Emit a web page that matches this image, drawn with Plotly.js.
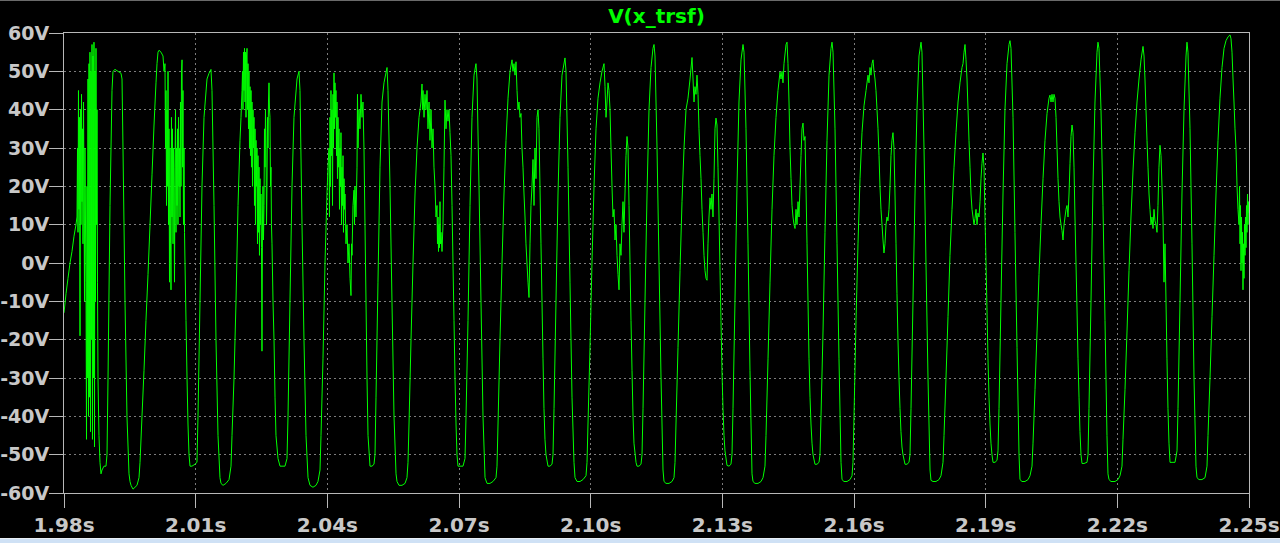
<!DOCTYPE html>
<html>
<head>
<meta charset="utf-8">
<script src="https://cdn.plot.ly/plotly-3.0.1.min.js"></script>
<style>
  html, body { margin: 0; padding: 0; background: #000; width: 1280px; height: 543px; overflow: hidden; }
  #topline { height: 1px; background: #6a6a6a; }
  #chart { width: 1280px; height: 537px; }
  #statusline { height: 1px; background: #e8eef5; }
  #statusbar { height: 4px; background: #cfe1f5; }
</style>
</head>
<body>
<div id="topline"></div>
<div id="chart"></div>
<div id="statusline"></div>
<div id="statusbar"></div>
<script>
// ---- Data ----
const titleText = 'V(x_trsf)';
const startTime = 1.98; // seconds
const tickTimes = [1.98, 2.01, 2.04, 2.07, 2.10, 2.13, 2.16, 2.19, 2.22, 2.25];
const tickTimeLabels = ['1.98s', '2.01s', '2.04s', '2.07s', '2.10s', '2.13s', '2.16s', '2.19s', '2.22s', '2.25s'];
const tickVolts = [-60, -50, -40, -30, -20, -10, 0, 10, 20, 30, 40, 50, 60];
const tickVoltLabels = ['-60V', '-50V', '-40V', '-30V', '-20V', '-10V', '0V', '10V', '20V', '30V', '40V', '50V', '60V'];

// samples: [time offset in ms after 1.98 s, voltage in V]
const samples = [
[0.00,-13],[0.46,-8],[0.91,-4],[1.37,0],[1.82,3],[2.28,7],[2.73,10],[2.96,12],
[3.08,30],[3.19,8],[3.30,45],[3.42,14],[3.53,38],[3.65,-19],[3.76,40],[3.87,10],[3.99,44],[4.10,16],[4.22,35],[4.33,5],[4.44,42],[4.56,20],[4.67,-10],[4.78,30],[4.90,10],[5.01,-5],[5.13,-46],[5.24,20],[5.35,-30],[5.47,48],[5.58,-40],[5.70,52],[5.81,-35],[5.92,55],[6.04,-44],[6.15,50],[6.26,-20],[6.38,57],[6.49,-46],[6.61,54],[6.72,-30],[6.83,57.6],[6.95,-48],[7.06,50],[7.18,-10],[7.29,56],[7.40,10],[7.52,40],[7.63,-5],
[7.75,-30],[7.97,-45],[8.20,-52],[8.43,-55],
[8.66,-54],[9.11,-53],[9.57,-53],[9.80,-50],[10.03,-30],[10.48,15],[10.94,45],[11.16,50],[11.62,50.5],[12.30,50],[12.99,49.5],[13.22,48],[13.44,30],[13.90,-10],[14.35,-40],[14.81,-55],[15.04,-57],
[15.27,-58],[15.72,-59],[16.18,-58.5],[16.63,-58],[17.09,-56],[17.32,-52],
[17.77,-40],[18.23,-28],[18.68,-15],[19.14,-3],[19.60,10],[20.05,23],[20.51,36],[20.96,47],[21.19,52],[21.42,55],
[21.65,55.5],[22.10,55],[22.56,54],[22.79,50],
[23.01,52],[23.13,30],[23.24,45],[23.36,15],[23.47,40],[23.58,20],[23.70,50],[23.81,10],[23.92,35],[24.04,-5],[24.15,30],[24.27,5],[24.38,-7],[24.49,38],[24.61,12],[24.72,35],[24.84,5],[24.95,30],[25.06,20],[25.18,-5],[25.29,25],[25.41,40],[25.52,8],[25.63,30],[25.75,15],[25.86,35],[25.97,10],[26.09,38],[26.20,20],[26.32,30],[26.43,12],[26.54,42],[26.66,20],[26.77,50],[26.89,53],[27.00,25],[27.11,45],[27.23,10],[27.34,30],[27.46,8],[27.57,0],
[27.80,-15],[28.03,-30],[28.25,-42],[28.48,-50],[28.71,-53],
[29.16,-53],[29.85,-52.5],[30.30,-52],
[30.53,-40],[30.99,-10],[31.44,20],[31.90,38],[32.58,48],[33.04,49.5],[33.49,50.5],
[33.72,45],[34.18,15],[34.63,-20],[35.09,-45],[35.54,-56],
[35.77,-57.5],[36.23,-58],[36.91,-57.5],[37.60,-56.5],[38.05,-53],
[38.28,-45],[38.74,-30],[39.19,-10],[39.65,15],[40.10,32],[40.33,38],[40.56,45],
[40.67,50],[40.78,40],[40.90,55],[41.01,45],[41.13,56],[41.24,42],[41.35,55],[41.47,38],[41.58,54],[41.70,56],[41.81,40],[41.92,52],[42.04,35],[42.15,50],[42.26,30],[42.38,46],[42.49,28],[42.61,45],[42.72,25],[42.83,42],[42.95,20],[43.06,40],[43.18,30],[43.29,38],[43.40,15],[43.52,35],[43.63,10],[43.75,32],[43.86,20],[43.97,30],[44.09,5],[44.20,28],[44.31,8],[44.43,25],[44.54,2],[44.66,22],[44.77,10],[44.88,18],[45.00,4],[45.11,-23],[45.23,12],[45.34,20],[45.45,6],[45.57,15],[45.68,35],[45.80,25],[45.91,40],[46.02,30],[46.14,10],[46.25,20],[46.36,38],[46.48,30],[46.59,42],[46.71,47],[46.82,40],[46.93,38],[47.05,20],[47.16,25],[47.27,10],[47.39,5],[47.62,-10],
[47.85,-20],[48.08,-35],[48.30,-45],[48.76,-51],[49.22,-53],
[49.67,-53],[50.35,-53],[50.81,-51],
[51.04,-40],[51.49,-10],[51.95,20],[52.40,38],[53.09,48],[53.54,50],
[53.77,45],[54.23,10],[54.68,-20],[55.14,-45],[55.60,-56],
[56.05,-58],[56.73,-58.5],[57.42,-58],[57.87,-57],[58.33,-54],
[58.56,-45],[59.01,-25],[59.47,0],[59.92,18],[60.15,25],
[60.38,30],[60.49,12],[60.61,38],[60.72,20],[60.83,45],[60.95,28],[61.06,40],[61.18,15],[61.29,44],[61.40,30],[61.52,49.6],[61.63,35],[61.74,47],[61.86,38],[61.97,45],[62.09,28],[62.20,42],[62.31,22],[62.43,38],[62.54,25],[62.66,35],[62.77,14],[62.88,30],[63.00,20],[63.11,34],[63.23,10],[63.34,25],[63.45,15],[63.57,28],[63.68,8],[63.80,22],[63.91,14],[64.02,18],[64.25,5],[64.48,10],[64.71,0],[64.94,5],[65.17,-4],[65.39,-8.5],[65.51,5],[65.62,2],[65.85,15],[66.08,19],[66.19,10],[66.30,20],[66.53,12],[66.76,25],[66.87,44],[66.99,30],[67.21,40],[67.44,35],[67.67,44],[67.90,38],[68.12,42],[68.35,30],
[68.58,10],[68.81,-10],[69.04,-30],[69.27,-45],[69.72,-53],
[70.18,-53],[70.63,-52.5],[70.86,-50],
[71.09,-35],[71.54,-5],[72.00,25],[72.46,42],[72.91,47],[73.60,51],
[73.82,45],[74.28,20],[74.73,-10],[75.19,-40],[75.65,-55],[75.87,-57],
[76.33,-58],[77.01,-58],[77.70,-57.5],[78.15,-56],[78.38,-52],
[78.61,-42],[79.07,-20],[79.52,0],[79.98,18],[80.43,30],[80.89,38],[81.34,42],
[81.57,46.7],[81.68,40],[81.80,45],[82.03,38],[82.25,44],[82.48,40],[82.71,45],[82.94,35],[83.17,42],[83.39,32],[83.62,40],[83.85,30],[84.08,35],[84.30,25],[84.53,20],[84.76,12],[84.99,15],[85.10,5],[85.22,12],[85.33,3],[85.44,10],[85.56,4],[85.67,16],[85.78,5],[85.90,8],[86.13,3],[86.35,10],[86.58,25],[86.81,42.5],[87.04,35],[87.26,40],[87.49,37],[87.72,40],[87.95,34],[88.18,28],
[88.41,15],[88.63,0],[88.86,-15],[89.09,-30],[89.32,-42],[89.54,-50],[89.77,-53],
[90.23,-53],[90.91,-53],[91.37,-51],
[91.60,-40],[92.05,-15],[92.51,15],[92.96,38],[93.42,49],[93.87,52],
[94.10,48],[94.56,20],[95.01,-10],[95.47,-40],[95.93,-56],
[96.38,-57.5],[97.06,-57.5],[97.74,-57],[98.43,-56],[98.66,-53],
[98.89,-42],[99.34,-20],[99.80,0],[100.25,18],[100.71,32],[101.17,43],[101.62,50],[102.08,53],
[102.30,50],[102.53,52],[102.76,49],[102.99,52.5],[103.22,45],[103.44,40],[103.67,42],[103.90,38],[104.13,39],[104.35,30],[104.58,25],[104.81,18],[105.04,12],[105.26,5],[105.49,0],[105.72,-5],[105.95,-9],[106.18,5],[106.40,15],[106.63,20],[106.86,27],[107.09,15],[107.31,30],[107.54,22],[107.77,38],[108.00,40],[108.22,35],[108.45,20],
[108.68,5],[108.91,-10],[109.14,-25],[109.36,-38],[109.59,-46],[109.82,-50],[110.28,-53],
[110.73,-53],[111.19,-52.5],[111.42,-50],
[111.65,-38],[112.10,-10],[112.56,18],[113.01,38],[113.47,49],[114.15,53.5],
[114.38,50],[114.84,25],[115.29,-5],[115.75,-35],[116.20,-52],[116.43,-56],
[116.89,-57],[117.57,-57],[118.25,-56.5],[118.94,-55.5],[119.17,-52],
[119.39,-42],[119.85,-22],[120.30,0],[120.76,20],[121.22,35],[121.67,43],[122.13,47],[122.58,50],[123.04,52],
[123.27,46],[123.50,38],[123.72,42],[123.95,47],[124.18,45],[124.41,40],[124.63,30],[124.86,20],[125.09,12],[125.32,14],[125.55,6],[125.77,10],[126.00,2],[126.23,-3],[126.46,-7],[126.68,5],[126.91,2],[127.14,10],[127.37,16],[127.59,8],[127.82,18],[128.05,28],[128.28,33],[128.51,30],
[128.74,15],[128.96,0],[129.19,-15],[129.42,-28],[129.65,-40],[129.87,-47],[130.33,-52],[130.56,-53],
[131.01,-53],[131.47,-52.5],[131.70,-50],
[131.93,-38],[132.38,-10],[132.84,18],[133.29,40],[133.75,51],[134.20,56],[134.43,57],
[134.66,54],[135.12,30],[135.57,0],[136.03,-30],[136.48,-54],[136.71,-57],
[137.17,-57.5],[137.85,-57.5],[138.53,-57],[138.99,-56],[139.22,-52],
[139.44,-42],[139.90,-22],[140.36,-2],[140.81,16],[141.27,30],[141.72,40],[142.18,43],[142.64,48],[143.09,53.6],
[143.32,48],[143.55,42],[143.77,46],[144.00,44],[144.23,49],[144.46,44],[144.68,35],[144.91,28],[145.14,22],[145.37,14],[145.60,8],[145.82,2],[146.05,-2],[146.28,-4],[146.51,-4.5],[146.73,5],[146.96,12],[147.19,17],[147.42,14],[147.64,18],[147.87,12],[148.10,22],[148.33,35],[148.55,37.8],[148.78,36],
[149.01,25],[149.24,12],[149.47,-2],[149.69,-15],[149.92,-28],[150.15,-38],[150.38,-45],[150.60,-49],[151.06,-52.8],
[151.52,-53],[151.97,-52.5],[152.20,-50],
[152.43,-38],[152.88,-10],[153.34,20],[153.79,42],[154.25,53],[154.71,57],
[154.94,55],[155.39,35],[155.85,5],[156.30,-28],[156.76,-55],[156.99,-57],
[157.44,-57.5],[158.13,-57.5],[158.81,-57],[159.27,-56],[159.72,-53],
[159.95,-45],[160.41,-25],[160.86,-5],[161.32,14],[161.77,28],[162.23,38],[162.68,45],[163.14,49.8],[163.37,48],[163.60,50],[163.82,47],[164.05,52],[164.51,57],[164.74,57.6],
[164.96,52],[165.19,42],[165.42,30],[165.65,22],[165.88,15],[166.10,12],[166.33,10],[166.56,9],[166.79,14],[167.01,10],[167.24,16],[167.47,12],[167.70,20],[167.93,28],[168.15,35],[168.38,36.5],[168.61,32],[168.84,33],[169.06,20],
[169.29,5],[169.52,-10],[169.75,-25],[169.98,-35],[170.20,-42],[170.43,-47],[170.66,-50],[171.11,-52.5],
[171.57,-52.5],[172.03,-52],[172.25,-50],
[172.48,-40],[172.94,-18],[173.39,8],[173.85,32],[174.31,49],[174.76,56],[174.99,57.6],
[175.22,55],[175.67,35],[176.13,5],[176.58,-25],[177.04,-52],[177.27,-56.5],
[177.72,-57],[178.41,-57],[179.09,-56.5],[179.55,-55.5],[179.77,-52],
[180.00,-40],[180.46,-15],[180.91,5],[181.37,22],[181.82,34],[182.28,41],[182.74,45],[183.19,49],[183.42,47],[183.65,51],[183.87,49],[184.10,52],[184.33,53],[184.56,50],[184.78,48],[185.01,45],
[185.24,40],[185.47,35],[185.70,28],[185.92,20],[186.15,14],[186.38,10],[186.61,6],[186.83,2.6],[187.06,5],[187.29,10],[187.52,12],[187.74,11],[187.97,14],[188.20,20],[188.43,28],[188.65,32],[188.88,34],[189.11,30],
[189.34,18],[189.57,5],[189.79,-8],[190.02,-20],[190.25,-30],[190.48,-38],[190.70,-44],[190.93,-48],[191.16,-50],[191.62,-52.5],
[192.08,-52.5],[192.53,-52],[192.76,-50],
[192.99,-38],[193.44,-10],[193.90,18],[194.35,40],[194.81,54],[195.27,57.6],
[195.49,55],[195.95,30],[196.40,0],[196.86,-30],[197.32,-54],[197.54,-56.7],
[198.00,-57],[198.68,-57],[199.37,-56.5],[199.82,-55.5],[200.28,-52],
[200.51,-45],[200.96,-30],[201.42,-14],[201.87,2],[202.33,14],[202.79,25],[203.24,34],[203.70,42],[204.15,47],[204.61,51],[204.84,52],[205.07,55],[205.29,57],
[205.52,53],[205.75,48],[205.98,40],[206.20,32],[206.43,25],[206.66,18],[206.89,14],[207.12,12],[207.34,10],[207.57,11.6],[207.80,14],[208.03,10],[208.25,13],[208.48,12],[208.71,16],[208.94,22],[209.16,26],[209.39,28.7],[209.62,25],
[209.85,12],[210.08,0],[210.30,-12],[210.53,-25],[210.76,-35],[210.99,-42],[211.21,-47],[211.44,-50],[211.67,-52],
[212.13,-52],[212.58,-51.5],[212.81,-49],
[213.04,-38],[213.49,-10],[213.95,18],[214.40,40],[214.86,52],[215.32,57],[215.54,58],
[215.77,56],[216.23,38],[216.68,8],[217.14,-22],[217.60,-50],[217.82,-56.5],
[218.28,-57],[218.96,-57],[219.65,-56.5],[220.10,-55.5],[220.56,-53],
[220.79,-47],[221.24,-33],[221.70,-18],[222.15,-3],[222.61,10],[223.07,22],[223.52,32],[223.98,39],[224.43,43],[224.66,43.8],[224.89,42],[225.12,44],[225.34,42],[225.57,44],[225.80,43],
[226.03,38],[226.26,30],[226.48,22],[226.71,16],[226.94,12],[227.17,10],[227.39,8.5],[227.62,6],[227.85,10],[228.08,12],[228.31,14],[228.53,15],[228.76,12],[228.99,18],[229.22,26],[229.44,33],[229.67,36],[229.90,34],[230.13,25],
[230.35,12],[230.58,0],[230.81,-12],[231.04,-25],[231.27,-35],[231.49,-44],[231.72,-50],[231.95,-52.3],
[232.40,-52.3],[233.09,-52],[233.32,-50],
[233.54,-38],[234.00,-10],[234.45,20],[234.91,42],[235.37,55],[235.59,57.6],
[235.82,56],[236.28,40],[236.73,15],[237.19,-15],[237.64,-45],[237.87,-55],[238.10,-56.5],
[238.56,-57],[239.47,-57],[240.15,-56.5],[240.61,-55.5],[241.06,-53],
[241.29,-46],[241.75,-33],[242.20,-18],[242.66,-2],[243.11,12],[243.57,24],[244.03,34],[244.48,42],[244.94,48],[245.39,53],[245.85,56.5],
[246.08,54],[246.30,48],[246.53,40],[246.76,32],[246.99,25],[247.22,18],[247.44,14],[247.67,10],[247.90,12],[248.13,9],[248.35,14],[248.58,11],[248.81,10],[249.04,8],[249.26,15],[249.49,25],[249.72,30.7],[249.95,28],[250.18,20],[250.40,12],[250.63,-5],[250.86,5],[251.09,-10],
[251.31,-25],[251.54,-38],[251.77,-47],[252.00,-52],
[252.46,-52],[253.14,-52],[253.60,-49],
[253.82,-38],[254.28,-10],[254.73,18],[255.19,40],[255.65,54],[255.87,57.6],
[256.10,55],[256.56,35],[257.01,5],[257.47,-30],[257.92,-53],[258.15,-56],
[258.61,-56.5],[259.29,-56.5],[259.98,-56],[260.43,-53],
[260.66,-45],[261.12,-30],[261.57,-14],[262.03,2],[262.48,18],[262.94,32],[263.39,43],[263.85,51],[264.31,56],[264.76,58],[265.22,59],[265.67,59.5],[265.90,58.5],
[266.13,55],[266.36,48],[266.58,42],[266.81,35],[267.04,30],[267.27,20],[267.49,14],[267.72,10],[267.84,20],[267.95,5],[268.06,15],[268.18,-2],[268.29,12],[268.41,0],[268.52,8],[268.63,-7],[268.75,5],[268.86,-4],[268.97,10],[269.09,2],[269.20,12],[269.32,4],[269.43,15],[269.54,8],[269.66,18],[269.77,10],[269.89,16],[270.00,13]
];

// ---- Build the chart ----
const xs = samples.map(p => startTime + p[0] / 1000);
const ys = samples.map(p => p[1]);

const labelFont = { family: 'DejaVu Sans, Verdana, sans-serif', size: 20, color: '#c8c8c8', weight: 'bold' };
const axisCommon = {
  showgrid: true,
  gridcolor: '#7c7c7c',
  griddash: '2px,3px',
  gridwidth: 1,
  zeroline: false,
  showline: true,
  mirror: true,
  linecolor: '#b8b8b8',
  linewidth: 1,
  ticks: 'outside',
  ticklen: 14,
  tickwidth: 1,
  tickcolor: '#b8b8b8',
  tickfont: labelFont,
  fixedrange: true
};

const trace = {
  type: 'scatter',
  mode: 'lines',
  x: xs,
  y: ys,
  line: { color: '#00ff00', width: 1, simplify: false },
  hoverinfo: 'skip',
  showlegend: false
};

const layout = {
  width: 1280,
  height: 537,
  paper_bgcolor: '#000000',
  plot_bgcolor: '#000000',
  margin: { l: 64, r: 31, t: 32, b: 45, pad: 0 },
  title: {
    text: titleText,
    font: { family: 'DejaVu Sans, Verdana, sans-serif', size: 20, color: '#00ff00', weight: 'bold' },
    x: 0.5, xref: 'paper', xanchor: 'center',
    y: 0.972, yref: 'container', yanchor: 'middle'
  },
  xaxis: Object.assign({}, axisCommon, {
    range: [tickTimes[0], tickTimes[tickTimes.length - 1]],
    tickmode: 'array',
    tickvals: tickTimes,
    ticktext: tickTimeLabels
  }),
  yaxis: Object.assign({}, axisCommon, {
    range: [tickVolts[0], tickVolts[tickVolts.length - 1]],
    tickmode: 'array',
    tickvals: tickVolts,
    ticktext: tickVoltLabels,
    ticklabelstandoff: -4,
    tickfont: Object.assign({}, labelFont, { size: 19 })
  }),
  showlegend: false
};

Plotly.newPlot('chart', [trace], layout, { staticPlot: true, displayModeBar: false });
</script>
</body>
</html>
